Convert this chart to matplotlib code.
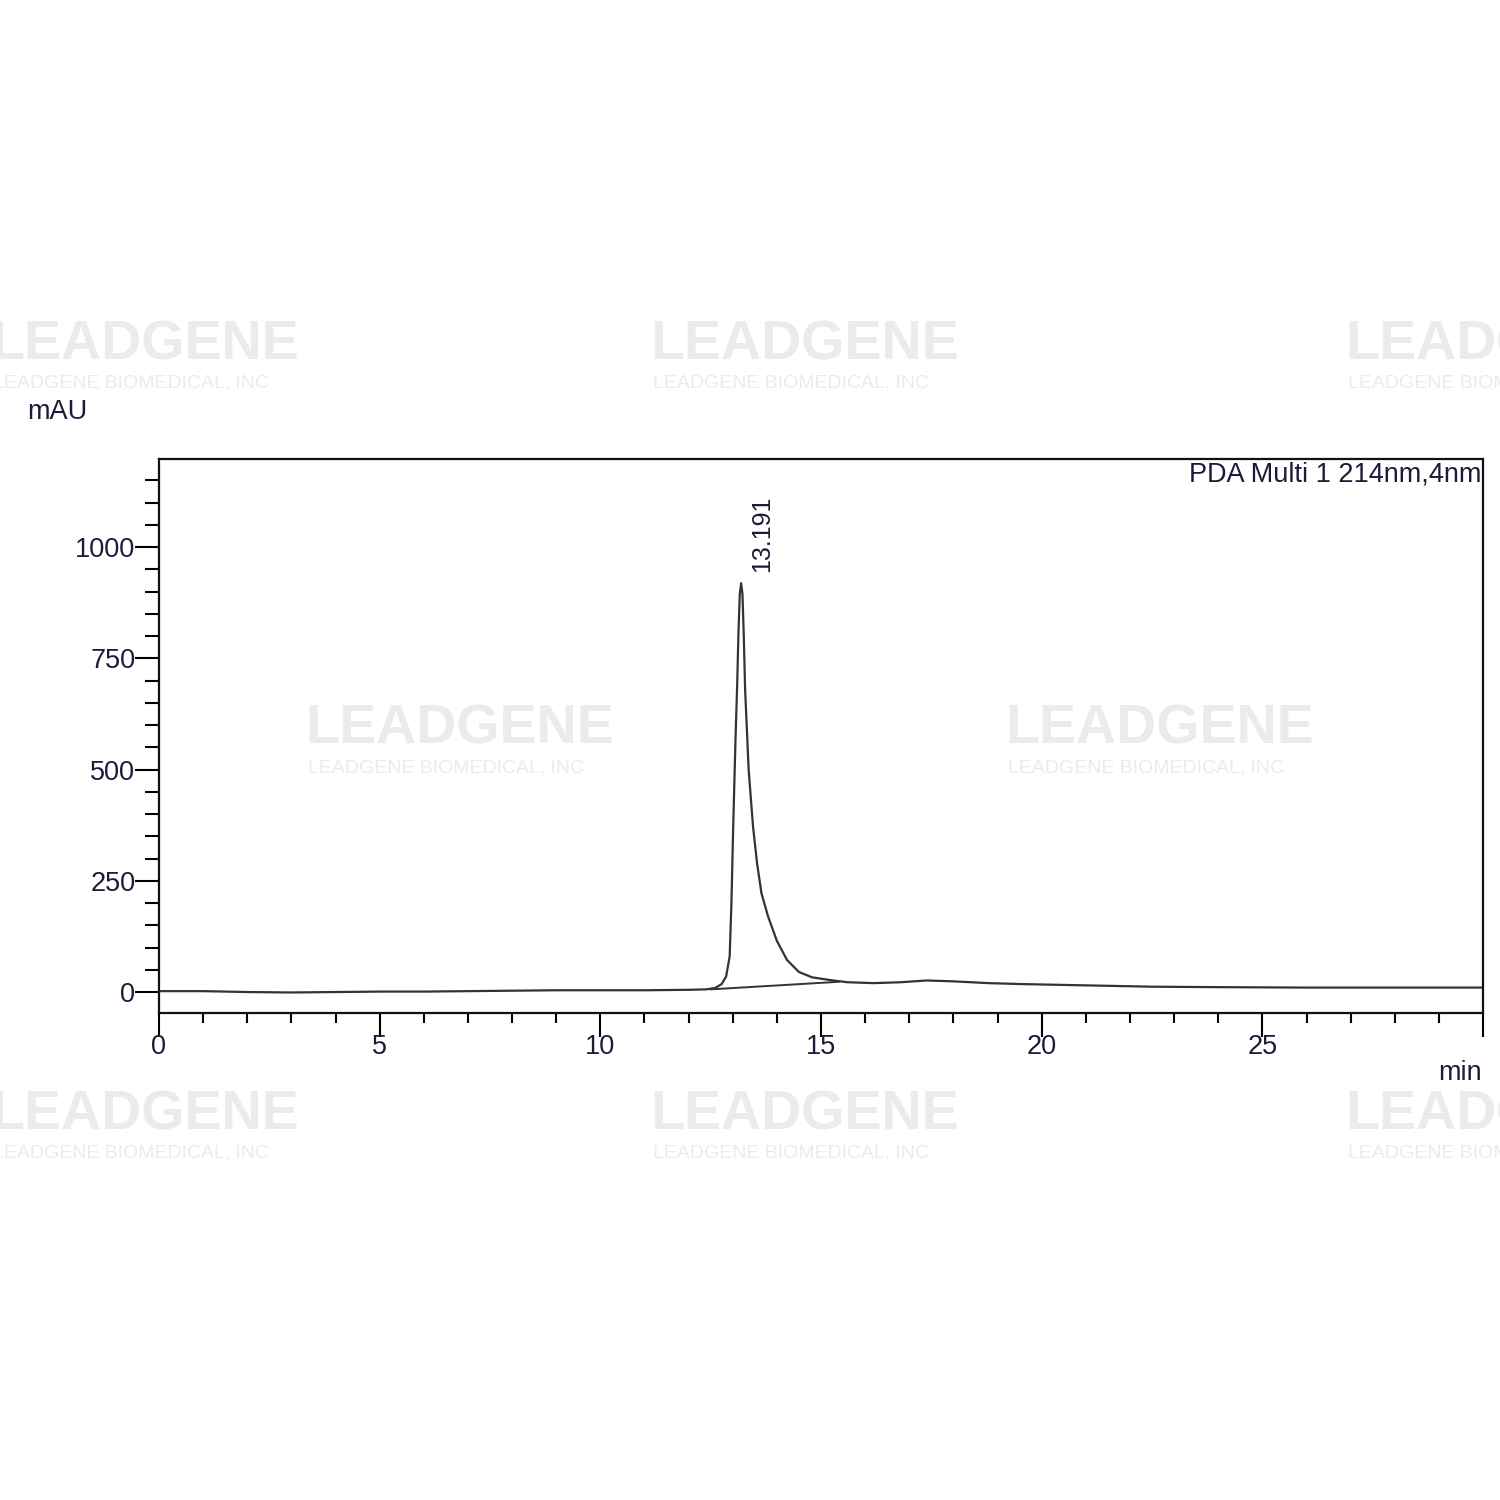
import matplotlib
matplotlib.use("Agg")
import matplotlib.pyplot as plt
from matplotlib.ticker import MultipleLocator, FuncFormatter

plt.rcParams['font.family'] = ['Liberation Sans', 'DejaVu Sans']

# chromatogram, PDA 214nm
time_min = [0.0, 1.0, 2.0, 3.0, 4.0, 5.0, 6.0, 7.0, 8.0, 9.0, 10.0, 11.0, 12.0,
            12.4, 12.6, 12.75, 12.85, 12.93, 12.97, 13.01, 13.06, 13.10, 13.13,
            13.16, 13.19, 13.22, 13.25, 13.28, 13.36, 13.46, 13.55, 13.65, 13.8,
            14.0, 14.23, 14.5, 14.8, 15.2, 15.6, 16.2, 16.8, 17.4, 18.0, 18.8,
            19.5, 20.5, 21.5, 22.5, 24.0, 26.0, 28.0, 30.0]
signal_mau = [2, 2, 0, -1, 0, 1, 1, 2, 3, 4, 4, 4, 5,
              6, 9, 18, 35, 80, 200, 371, 560, 690, 810,
              895, 919, 895, 800, 680, 500, 371, 290, 222, 170,
              115, 72, 45, 33, 27, 22, 20, 22, 26, 24, 20,
              18, 16, 14, 12, 11, 10, 10, 10]

# integration baseline under the peak
base_t = [12.5, 15.4]
base_y = [6, 23]

peak_rt = 13.191
peak_h = 919

fig = plt.figure(figsize=(15, 15), dpi=100)
ax = fig.add_axes([0.106, 0.3247, 0.8827, 0.3693])

ax.plot(time_min, signal_mau, color='#333333', lw=1.6)
ax.plot(base_t, base_y, color='#333333', lw=1.4)

ax.set_xlim(0, 30)
ax.set_ylim(-47, 1198)

ax.xaxis.set_major_locator(MultipleLocator(5))
ax.xaxis.set_minor_locator(MultipleLocator(1))
ax.yaxis.set_major_locator(MultipleLocator(250))
ax.yaxis.set_minor_locator(MultipleLocator(50))
ax.xaxis.set_major_formatter(FuncFormatter(lambda v, p: '' if v >= 30 else '%d' % v))

tcol = '#1c1c3a'
ax.tick_params(axis='both', which='major', length=17, width=1.5, labelsize=19.5,
               labelcolor=tcol, direction='out')
ax.tick_params(axis='y', which='major', pad=0)
ax.tick_params(axis='x', which='major', pad=-2)
ax.tick_params(axis='y', which='minor', length=10, width=1.5)
ax.tick_params(axis='x', which='minor', length=7, width=1.5)
for s in ax.spines.values():
    s.set_linewidth(1.6)
    s.set_color('#111111')

ax.text(peak_rt + 0.48, peak_h + 25, '13.191', rotation=90, fontsize=18,
        color=tcol, ha='center', va='bottom')
ax.text(0.999, 0.995, 'PDA Multi 1 214nm,4nm', transform=ax.transAxes,
        fontsize=19.5, color=tcol, ha='right', va='top')

fig.text(27 / 1500, 1 - 412 / 1500, 'mAU', fontsize=19.5, color=tcol,
         ha='left', va='center')
fig.text(1482 / 1500, 1 - 1073 / 1500, 'min', fontsize=19.5, color=tcol,
         ha='right', va='center')

# faint watermarks
wm = [(-10, 345), (650, 345), (1345, 345), (305, 730), (1005, 730),
      (-10, 1115), (650, 1115), (1345, 1115)]
for x, y in wm:
    fig.text(x / 1500, 1 - y / 1500, 'LEADGENE', fontsize=40, fontweight='bold',
             color='#ebebeb', ha='left', va='center', zorder=0)
    fig.text((x + 3) / 1500, 1 - (y + 38) / 1500, 'LEADGENE BIOMEDICAL, INC',
             fontsize=14, color='#ebebeb', ha='left', va='center', zorder=0)

fig.savefig('out.png', dpi=100)
